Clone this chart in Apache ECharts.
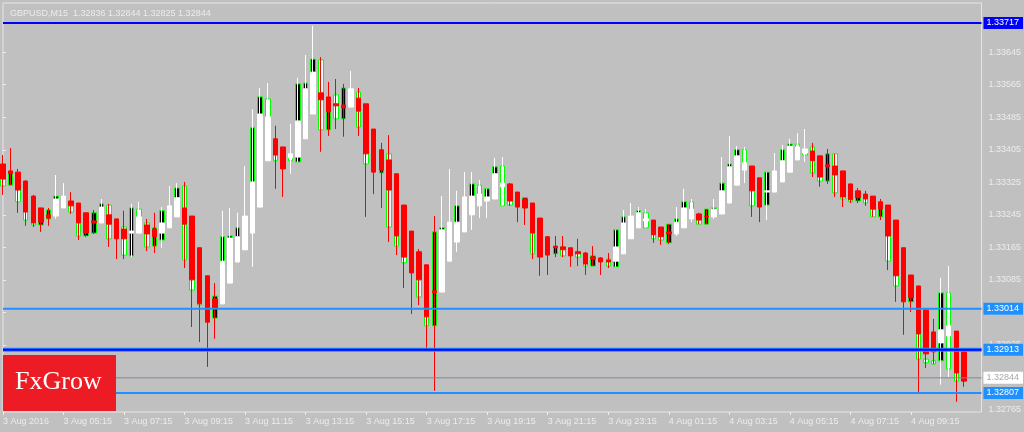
<!DOCTYPE html>
<html><head><meta charset="utf-8">
<script src="https://cdn.jsdelivr.net/npm/echarts@6/dist/echarts.min.js"></script>
<style>html,body{margin:0;padding:0;background:#c0c0c0;}#c{width:1024px;height:432px;}</style>
</head><body><div id="c"></div>
<script>
// Heiken Ashi overlay (white = up, red = down)
const haOpen = [1.33370,1.33353,1.33350,1.33328,1.33291,1.33262,1.33245,1.33242,1.33262,1.33279,
1.33274,1.33250,1.33230,1.33225,1.33245,1.33235,1.33210,1.33200,1.33200,1.33220,
1.33210,1.33200,1.33213,1.33240,1.33262,1.33242,1.33164,1.33095,1.33038,1.33026,
1.33077,1.33129,1.33159,1.33200,1.33264,1.33378,1.33432,1.33412,1.33385,1.33387,
1.33432,1.33493,1.33545,1.33535,1.33518,1.33515,1.33510,1.33532,1.33518,1.33456,
1.33405,1.33380,1.33346,1.33269,1.33205,1.33154,1.33122,1.33058,1.33055,1.33131,
1.33178,1.33203,1.33245,1.33267,1.33279,1.33284,1.33314,1.33321,1.33301,1.33284,
1.33274,1.33237,1.33191,1.33168,1.33166,1.33164,1.33154,1.33151,1.33141,1.33139,
1.33134,1.33131,1.33149,1.33186,1.33213,1.33230,1.33232,1.33215,1.33203,1.33198,
1.33213,1.33235,1.33247,1.33242,1.33240,1.33247,1.33274,1.33318,1.33355,1.33365,
1.33336,1.33301,1.33301,1.33326,1.33350,1.33380,1.33397,1.33402,1.33390,1.33368,
1.33365,1.33353,1.33321,1.33304,1.33296,1.33291,1.33277,1.33269,1.33232,1.33164,
1.33097,1.33070,1.33011,1.32957,1.32930,1.32947,1.32959,1.32908];
const haClose = [1.33333,1.33346,1.33306,1.33252,1.33225,1.33227,1.33237,1.33284,1.33291,1.33267,
1.33225,1.33200,1.33225,1.33264,1.33222,1.33186,1.33186,1.33205,1.33240,1.33198,
1.33191,1.33225,1.33267,1.33287,1.33222,1.33085,1.33026,1.32981,1.33016,1.33131,
1.33188,1.33191,1.33242,1.33326,1.33493,1.33486,1.33392,1.33358,1.33395,1.33476,
1.33555,1.33596,1.33528,1.33498,1.33513,1.33508,1.33555,1.33500,1.33395,1.33350,
1.33355,1.33306,1.33193,1.33141,1.33102,1.33085,1.32994,1.33053,1.33208,1.33227,
1.33227,1.33289,1.33291,1.33296,1.33289,1.33346,1.33323,1.33279,1.33264,1.33262,
1.33200,1.33141,1.33146,1.33164,1.33159,1.33144,1.33149,1.33124,1.33136,1.33129,
1.33129,1.33166,1.33225,1.33242,1.33250,1.33235,1.33196,1.33191,1.33198,1.33227,
1.33262,1.33259,1.33232,1.33240,1.33259,1.33304,1.33363,1.33390,1.33373,1.33304,
1.33264,1.33304,1.33353,1.33378,1.33414,1.33412,1.33407,1.33378,1.33338,1.33363,
1.33343,1.33289,1.33282,1.33287,1.33284,1.33259,1.33259,1.33193,1.33095,1.33031,
1.33041,1.32952,1.32903,1.32908,1.32962,1.32972,1.32856,1.32836];
const haLow = [1.33294,1.33318,1.33250,1.33218,1.33215,1.33203,1.33218,1.33235,1.33262,1.33247,
1.33183,1.33191,1.33198,1.33225,1.33166,1.33136,1.33136,1.33141,1.33200,1.33156,
1.33151,1.33164,1.33213,1.33240,1.33114,1.32969,1.32932,1.32871,1.32940,1.33026,
1.33077,1.33129,1.33159,1.33117,1.33264,1.33378,1.33309,1.33289,1.33346,1.33375,
1.33432,1.33493,1.33400,1.33439,1.33456,1.33437,1.33510,1.33439,1.33240,1.33296,
1.33262,1.33178,1.33146,1.33065,1.33001,1.33023,1.32918,1.32812,1.33055,1.33131,
1.33154,1.33203,1.33208,1.33237,1.33237,1.33284,1.33267,1.33267,1.33227,1.33220,
1.33136,1.33095,1.33097,1.33141,1.33141,1.33117,1.33119,1.33097,1.33119,1.33097,
1.33114,1.33117,1.33149,1.33186,1.33213,1.33213,1.33176,1.33171,1.33173,1.33193,
1.33213,1.33227,1.33222,1.33222,1.33235,1.33247,1.33274,1.33318,1.33323,1.33240,
1.33227,1.33232,1.33301,1.33326,1.33350,1.33380,1.33375,1.33338,1.33314,1.33321,
1.33289,1.33264,1.33274,1.33274,1.33267,1.33240,1.33232,1.33109,1.33031,1.32950,
1.33006,1.32809,1.32868,1.32878,1.32827,1.32846,1.32785,1.32822];
const haHigh = [1.33392,1.33409,1.33358,1.33330,1.33294,1.33262,1.33262,1.33343,1.33323,1.33301,
1.33274,1.33250,1.33257,1.33284,1.33272,1.33235,1.33255,1.33272,1.33277,1.33235,
1.33250,1.33264,1.33316,1.33323,1.33326,1.33242,1.33164,1.33095,1.33077,1.33255,
1.33262,1.33250,1.33365,1.33505,1.33557,1.33569,1.33464,1.33412,1.33469,1.33582,
1.33638,1.33710,1.33633,1.33572,1.33579,1.33567,1.33599,1.33557,1.33518,1.33456,
1.33422,1.33441,1.33346,1.33269,1.33205,1.33161,1.33122,1.33242,1.33291,1.33358,
1.33304,1.33350,1.33350,1.33331,1.33309,1.33385,1.33387,1.33323,1.33301,1.33287,
1.33274,1.33237,1.33193,1.33193,1.33193,1.33164,1.33186,1.33154,1.33168,1.33141,
1.33151,1.33208,1.33257,1.33274,1.33264,1.33259,1.33232,1.33215,1.33222,1.33264,
1.33309,1.33284,1.33250,1.33259,1.33284,1.33387,1.33439,1.33414,1.33412,1.33365,
1.33336,1.33350,1.33397,1.33417,1.33432,1.33446,1.33456,1.33422,1.33390,1.33407,
1.33395,1.33353,1.33321,1.33311,1.33304,1.33291,1.33284,1.33269,1.33232,1.33164,
1.33097,1.33070,1.33011,1.32989,1.33090,1.33119,1.32959,1.32908];
// Real candle bodies (lime outline; black = up, white = down)
const realOpen = [1.33360,1.33318,1.33331,1.33291,1.33257,1.33220,1.33235,1.33269,1.33272,1.33274,
1.33252,1.33193,1.33200,1.33247,1.33269,1.33222,1.33215,1.33144,1.33259,1.33225,
1.33168,1.33183,1.33222,1.33257,1.33316,1.33129,1.33085,1.33036,1.32991,1.33060,
1.33129,1.33171,1.33208,1.33282,1.33459,1.33530,1.33417,1.33392,1.33390,1.33375,
1.33540,1.33567,1.33626,1.33454,1.33540,1.33481,1.33528,1.33547,1.33461,1.33405,
1.33348,1.33395,1.33245,1.33183,1.33129,1.33122,1.33048,1.32972,1.33183,1.33196,
1.33203,1.33257,1.33269,1.33318,1.33287,1.33309,1.33365,1.33294,1.33287,1.33262,
1.33257,1.33159,1.33171,1.33149,1.33166,1.33159,1.33154,1.33144,1.33119,1.33136,
1.33136,1.33117,1.33203,1.33227,1.33232,1.33250,1.33220,1.33208,1.33176,1.33213,
1.33232,1.33277,1.33247,1.33222,1.33247,1.33264,1.33323,1.33370,1.33405,1.33360,
1.33287,1.33269,1.33331,1.33350,1.33392,1.33419,1.33405,1.33412,1.33368,1.33328,
1.33395,1.33318,1.33301,1.33279,1.33294,1.33282,1.33240,1.33257,1.33139,1.33072,
1.33031,1.33036,1.32890,1.32886,1.32886,1.33053,1.32876,1.32836];
const realClose = [1.33316,1.33350,1.33277,1.33232,1.33220,1.33247,1.33257,1.33291,1.33287,1.33252,
1.33193,1.33227,1.33250,1.33272,1.33186,1.33193,1.33146,1.33262,1.33220,1.33166,
1.33213,1.33255,1.33257,1.33311,1.33134,1.33060,1.33023,1.32991,1.33045,1.33191,
1.33193,1.33213,1.33232,1.33459,1.33535,1.33469,1.33378,1.33368,1.33378,1.33567,
1.33569,1.33628,1.33454,1.33528,1.33481,1.33557,1.33540,1.33461,1.33370,1.33360,
1.33380,1.33215,1.33168,1.33127,1.33109,1.33043,1.32972,1.33203,1.33213,1.33218,
1.33267,1.33282,1.33321,1.33282,1.33309,1.33363,1.33267,1.33269,1.33269,1.33287,
1.33149,1.33149,1.33154,1.33166,1.33144,1.33149,1.33141,1.33119,1.33144,1.33131,
1.33119,1.33208,1.33240,1.33235,1.33255,1.33213,1.33186,1.33183,1.33222,1.33235,
1.33277,1.33247,1.33222,1.33259,1.33262,1.33323,1.33370,1.33405,1.33365,1.33267,
1.33272,1.33350,1.33343,1.33405,1.33419,1.33405,1.33392,1.33348,1.33328,1.33395,
1.33299,1.33284,1.33277,1.33296,1.33274,1.33240,1.33269,1.33131,1.33070,1.33041,
1.33060,1.32890,1.32881,1.32878,1.33053,1.32866,1.32836,1.32844];

const xTickLabels = ['3 Aug 2016','3 Aug 05:15','3 Aug 07:15','3 Aug 09:15','3 Aug 11:15','3 Aug 13:15',
'3 Aug 15:15','3 Aug 17:15','3 Aug 19:15','3 Aug 21:15','3 Aug 23:15','4 Aug 01:15','4 Aug 03:15',
'4 Aug 05:15','4 Aug 07:15','4 Aug 09:15'];
const yTickLabels = [1.32765,1.32845,1.32925,1.33005,1.33085,1.33165,1.33245,1.33325,1.33405,1.33485,1.33565,1.33645];
const levelBlue = 1.33717;
const levelA = 1.33014;
const levelB = 1.32913;
const levelC = 1.32807;
const bidPrice = 1.32844;
const titleText = 'GBPUSD,M15  1.32836 1.32844 1.32825 1.32844';

// bar time categories (M15 bars from 3 Aug 03:15, plus empty right margin)
const categories = [];
for (let i = 0; i < 130; i++) {
  const m = 3 * 60 + 15 + 15 * i;
  const d = 3 + Math.floor(m / 1440), mm = m % 1440;
  const p = n => (n < 10 ? '0' : '') + n;
  categories.push(d + ' Aug ' + p(Math.floor(mm / 60)) + ':' + p(mm % 60));
}
const haData = haOpen.map((o, i) => [o, haClose[i], haLow[i], haHigh[i]]);
const realData = realOpen.map((o, i) => [o, realClose[i], Math.min(o, realClose[i]), Math.max(o, realClose[i])]);

const FG = '#ececec';
const FONT = 'Liberation Sans';
const yMin = 1.32760, yMax = 1.33766;

// one horizontal level = a 2-point line across grid 0, with its price box as end label
function levelSeries(v, color, width, bg, txtColor, showLabel, z) {
  return {
    type: 'line', xAxisIndex: 0, yAxisIndex: 0, z: z || 5, silent: true, animation: false,
    data: [[0, v], [1, v]], showSymbol: false, symbol: 'none',
    lineStyle: { color: color, width: width, type: 'solid' },
    endLabel: showLabel === false ? { show: false } : {
      show: true, distance: 2, formatter: v.toFixed(5),
      backgroundColor: bg, color: txtColor, fontSize: 9, fontFamily: FONT,
      padding: [2, 4, 1, 3], lineHeight: 9
    }
  };
}

const chart = echarts.init(document.getElementById('c'), null, { renderer: 'canvas' });
chart.setOption({
  backgroundColor: '#c0c0c0',
  animation: false,
  textStyle: { fontFamily: FONT },
  title: {
    text: titleText, left: 5, top: 4,
    textStyle: { color: FG, fontSize: 9, fontWeight: 'normal', fontFamily: FONT }
  },
  grid: [
    { left: 3, right: 41, top: 3, bottom: 20, show: true, borderColor: '#e6e6e6', borderWidth: 1, backgroundColor: 'transparent' },
    { left: 3, right: 45, top: 3, bottom: 20 }
  ],
  xAxis: [
    { gridIndex: 0, type: 'value', min: 0, max: 1, show: false },
    {
      gridIndex: 1, type: 'category', data: categories, boundaryGap: false,
      axisLine: { show: false },
      axisTick: { show: true, length: 3, interval: (i) => i % 8 === 0 && i <= 120, lineStyle: { color: FG } },
      axisLabel: {
        interval: (i) => i % 8 === 0 && i <= 120,
        formatter: (v, i) => (i % 8 === 0 && xTickLabels[i / 8]) ? xTickLabels[i / 8] : '',
        color: FG, fontSize: 9, align: 'left', margin: 5, fontFamily: FONT
      },
      splitLine: { show: false }
    }
  ],
  yAxis: [
    {
      gridIndex: 0, type: 'value', position: 'right', min: yMin, max: yMax,
      axisLine: { show: false },
      axisTick: { show: true, length: 3, customValues: yTickLabels, lineStyle: { color: FG } },
      axisLabel: { customValues: yTickLabels, formatter: v => v.toFixed(5), color: FG, fontSize: 9, margin: 7, fontFamily: FONT },
      splitLine: { show: false }
    },
    { gridIndex: 1, type: 'value', min: yMin, max: yMax, show: false }
  ],
  series: [
    {
      name: 'real', type: 'candlestick', xAxisIndex: 1, yAxisIndex: 1, data: realData,
      barWidth: 5, z: 2, silent: true,
      itemStyle: { color: '#000000', color0: '#ffffff', borderColor: '#00ff00', borderColor0: '#00ff00', borderWidth: 1 }
    },
    {
      name: 'ha', type: 'candlestick', xAxisIndex: 1, yAxisIndex: 1, data: haData,
      barWidth: 5, z: 3, silent: true,
      itemStyle: { color: '#ffffff', color0: '#ff0000', borderColor: '#ffffff', borderColor0: '#ff0000', borderWidth: 1 }
    },
    levelSeries(levelBlue, '#0000ff', 2, '#0000ff', '#ffffff'),
    levelSeries(levelA, '#1e90ff', 2, '#1e90ff', '#ffffff'),
    levelSeries(levelB, '#1e90ff', 4, '#1e90ff', '#ffffff', false, 5),
    levelSeries(levelB, '#0000ff', 2, '#1e90ff', '#ffffff', true, 6),
    levelSeries(bidPrice, '#778899', 1, '#ffffff', '#a8a8a8'),
    levelSeries(levelC, '#1e90ff', 2, '#1e90ff', '#ffffff')
  ],
  graphic: [
    { type: 'rect', left: 3, top: 355, z: 10, shape: { width: 113, height: 56 }, style: { fill: '#ed1c24' } },
    { type: 'text', left: 15, top: 369, z: 11, style: { text: 'FxGrow', fill: '#ffffff', font: '26px "Liberation Serif"' } }
  ]
});
</script></body></html>
